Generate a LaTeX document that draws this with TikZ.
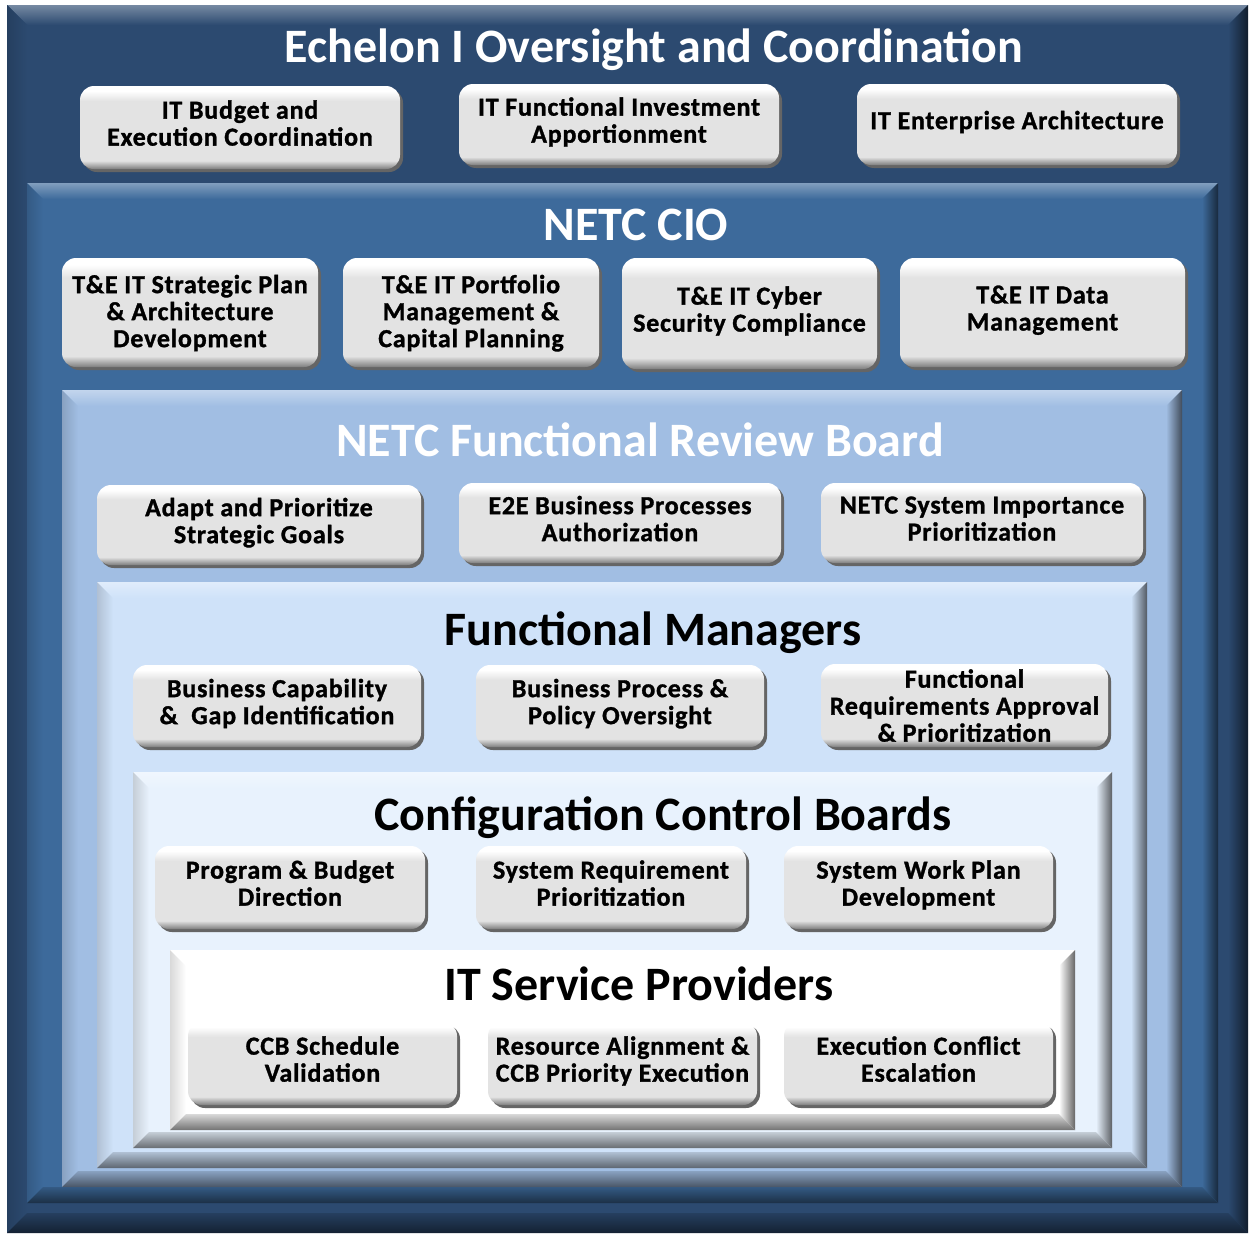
\documentclass[tikz,border=0pt]{standalone}
\usepackage{fontspec}
\setmainfont{Carlito}
\newfontfamily\btnfamily{Carlito}[LetterSpace=3, BoldFeatures={FakeBold=1.2}]
\definecolor{echnavy}{HTML}{2C4A70}
\definecolor{cioblue}{HTML}{3D6A9B}
\definecolor{frbblue}{HTML}{A1BEE3}
\definecolor{fmblue}{HTML}{CFE2F9}
\definecolor{ccbblue}{HTML}{E8F2FD}
\definecolor{btnface}{HTML}{E3E3E3}
\definecolor{btnrim}{HTML}{7E7E7E}
\usepackage{tikz}
\usetikzlibrary{shadows}

% raised look of the buttons: dark rim at the bottom, white rim on top
\pgfdeclareverticalshading{btnbevel}{100bp}{%
	color(0bp)=(btnrim); color(25bp)=(btnrim); color(30bp)=(btnface);
	color(66bp)=(btnface); color(72bp)=(white); color(100bp)=(white)}

\newcommand{\titlefont}{\fontsize{48}{52}\selectfont\bfseries}
\newcommand{\btnfont}{\btnfamily\fontsize{26}{27}\selectfont\bfseries}

% bevelled tier: x1, y1, x2, y2, colour, bevel width
\newcommand{\tierframe}[6]{%
	\fill[#5] (#1,#2) rectangle (#3,#4);
	\shade[top color=#5!65!white, bottom color=#5] (#1,#2) -- (#3,#2) -- (#3-#6,#2+#6) -- (#1+#6,#2+#6) -- cycle;
	\shade[left color=#5!85!black, right color=#5] (#1,#2) -- (#1+#6,#2+#6) -- (#1+#6,#4-#6) -- (#1,#4) -- cycle;
	\shade[left color=#5, right color=#5!40!black] (#3,#2) -- (#3-#6,#2+#6) -- (#3-#6,#4-#6) -- (#3,#4) -- cycle;
	\shade[top color=#5!85!black, bottom color=#5!45!black] (#1,#4) -- (#1+#6,#4-#6) -- (#3-#6,#4-#6) -- (#3,#4) -- cycle;
}

\tikzset{
	btn/.style={rounded corners=14pt, shading=btnbevel, align=center, font=\btnfont, inner sep=0pt, text depth=9pt,
		drop shadow={shadow xshift=3pt, shadow yshift=-3pt, fill=btnrim!80!black, opacity=1}},
	tiertitle/.style={font=\titlefont, anchor=base},
}

\begin{document}
\begin{tikzpicture}[x=1pt, y=-1pt]
	\fill[white] (0,0) rectangle (1250,1234);
	\useasboundingbox (0,0) rectangle (1250,1234);
	\pgfmathsetmacro{\bev}{16}
	
	% nested tiers, outermost first
	\tierframe{7}{5}{1248}{1233}{echnavy}{20}
	\tierframe{27}{183}{1218}{1203}{cioblue}{\bev}
	\tierframe{62}{390}{1182}{1187}{frbblue}{\bev}
	\tierframe{97}{582}{1147}{1168}{fmblue}{\bev}
	\tierframe{133}{772}{1112}{1148}{ccbblue}{\bev}
	\tierframe{170}{950}{1075}{1130}{white}{\bev}
	
	% Echelon I
	\node[tiertitle, text=white] (echelon) at (654,62) {Echelon I Oversight and Coordination};
	\node[btn, minimum width=320, minimum height=83] (budget) at (240,127.5) {IT Budget and\\Execution Coordination};
	\node[btn, minimum width=320, minimum height=81] (invest) at (619,124.5) {IT Functional Investment\\Apportionment};
	\node[btn, minimum width=320, minimum height=81] (entarch) at (1017,124.5) {IT Enterprise Architecture};
	
	% NETC CIO
	\node[tiertitle, text=white] (cio) at (636,240) {NETC CIO};
	\node[btn, text depth=3pt, minimum width=256, minimum height=109] (stratplan) at (190,312.5) {T\&E IT Strategic Plan\\\& Architecture\\Development};
	\node[btn, text depth=3pt, minimum width=256, minimum height=109] (portfolio) at (471,312.5) {T\&E IT Portfolio\\Management \&\\Capital Planning};
	\node[btn, minimum width=255, minimum height=111] (cyber) at (749.5,313.5) {T\&E IT Cyber\\Security Compliance};
	\node[btn, minimum width=285, minimum height=109] (datamgmt) at (1042.5,312.5) {T\&E IT Data\\Management};
	
	% Functional Review Board
	\node[tiertitle, text=white] (frb) at (640,456) {NETC Functional Review Board};
	\node[btn, minimum width=324, minimum height=80] (goals) at (259,525) {Adapt and Prioritize\\Strategic Goals};
	\node[btn, minimum width=322, minimum height=80] (etoe) at (620,523) {E2E Business Processes\\Authorization};
	\node[btn, minimum width=322, minimum height=80] (sysimp) at (982,523) {NETC System Importance\\Prioritization};
	
	% Functional Managers
	\node[tiertitle] (fm) at (653,645) {Functional Managers};
	\node[btn, minimum width=288, minimum height=82] (capgap) at (277,706) {Business Capability\\\&~ Gap Identification};
	\node[btn, minimum width=288, minimum height=82] (policy) at (620,706) {Business Process \&\\Policy Oversight};
	\node[btn, text depth=0pt, minimum width=287, minimum height=83] (reqappr) at (964.5,705.5) {Functional\\Requirements Approval\\\& Prioritization};
	
	% Configuration Control Boards
	\node[tiertitle] (ccb) at (663,830) {Configuration Control Boards};
	\node[btn, minimum width=270, minimum height=83] (progbud) at (290,887.5) {Program \& Budget\\Direction};
	\node[btn, minimum width=270, minimum height=83] (sysreq) at (611,887.5) {System Requirement\\Prioritization};
	\node[btn, minimum width=269, minimum height=83] (workplan) at (918.5,887.5) {System Work Plan\\Development};
	
	% IT Service Providers
	\node[tiertitle] (itsp) at (639,1000) {IT Service Providers};
	\node[btn, minimum width=269, minimum height=83] (schedval) at (322.5,1063.5) {CCB Schedule\\Validation};
	\node[btn, minimum width=269, minimum height=83] (resalign) at (622.5,1063.5) {Resource Alignment \&\\CCB Priority Execution};
	\node[btn, minimum width=269, minimum height=83] (escal) at (918.5,1063.5) {Execution Conflict\\Escalation};
\end{tikzpicture}
\end{document}
